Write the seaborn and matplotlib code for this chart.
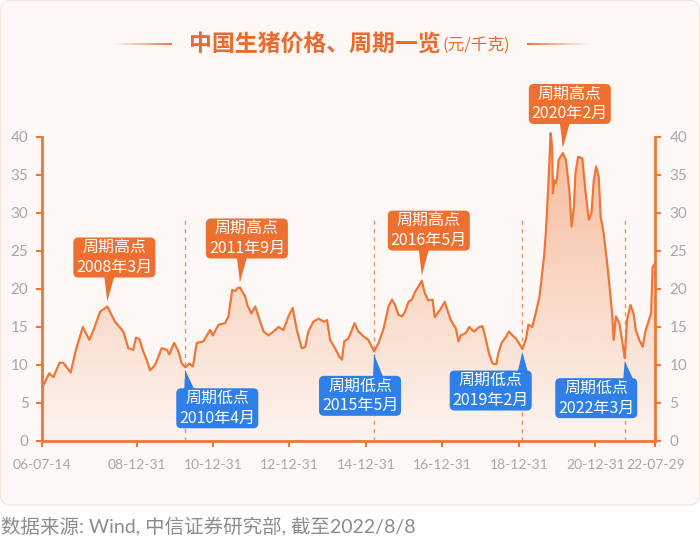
import numpy as np
import matplotlib
matplotlib.use("Agg")
import matplotlib.pyplot as plt
import seaborn as sns
from matplotlib.patches import FancyBboxPatch, Polygon
from matplotlib.transforms import IdentityTransform
from matplotlib.collections import LineCollection
from matplotlib.colors import to_rgb
import pandas as pd

# ---------------- data (decimal year, price 元/千克) ----------------
years = [
    2006.533, 2006.71, 2006.82, 2006.98, 2007.08, 2007.27, 2007.41, 2007.59, 2007.76, 2007.87,
    2008.04, 2008.23, 2008.43, 2008.65, 2008.78, 2008.91, 2008.98, 2009.07, 2009.17, 2009.26,
    2009.35, 2009.48, 2009.57, 2009.65, 2009.79, 2009.85, 2009.98, 2010.09, 2010.18, 2010.27,
    2010.38, 2010.47, 2010.57, 2010.74, 2010.92, 2010.99, 2011.14, 2011.31, 2011.40, 2011.50,
    2011.57, 2011.63, 2011.70, 2011.78, 2011.84, 2011.90, 2012.00, 2012.10, 2012.23, 2012.32,
    2012.45, 2012.58, 2012.71, 2012.84, 2012.97, 2013.08, 2013.19, 2013.32, 2013.41, 2013.49,
    2013.62, 2013.76, 2013.89, 2013.98, 2014.06, 2014.19, 2014.30, 2014.37, 2014.43, 2014.54,
    2014.63, 2014.70, 2014.80, 2014.93, 2015.06, 2015.21, 2015.33, 2015.46, 2015.59, 2015.68,
    2015.76, 2015.85, 2015.94, 2016.02, 2016.11, 2016.20, 2016.28, 2016.37, 2016.46, 2016.54,
    2016.63, 2016.74, 2016.80, 2016.93, 2017.06, 2017.13, 2017.22, 2017.35, 2017.42, 2017.48,
    2017.61, 2017.70, 2017.83, 2017.96, 2018.05, 2018.13, 2018.22, 2018.31, 2018.41, 2018.46,
    2018.55, 2018.66, 2018.74, 2018.83, 2018.92, 2019.00, 2019.09, 2019.18, 2019.25, 2019.35,
    2019.44, 2019.54, 2019.66, 2019.71, 2019.77, 2019.83, 2019.87, 2019.89, 2019.93, 2019.96,
    2020.00, 2020.04, 2020.15, 2020.23, 2020.32, 2020.38, 2020.44, 2020.48, 2020.55, 2020.66,
    2020.74, 2020.83, 2020.90, 2020.96, 2021.02, 2021.09, 2021.14, 2021.22, 2021.31, 2021.40,
    2021.44, 2021.48, 2021.54, 2021.63, 2021.70, 2021.77, 2021.83, 2021.92, 2022.00, 2022.06,
    2022.15, 2022.24, 2022.31, 2022.39, 2022.46, 2022.50, 2022.573,
]
prices = [
    7.1, 8.9, 8.4, 10.3, 10.3, 9.0, 12.0, 15.0, 13.3, 14.6,
    17.0, 17.7, 15.7, 14.4, 12.2, 12.0, 13.6, 13.4, 11.8, 10.7,
    9.3, 10.0, 11.1, 12.2, 12.0, 11.4, 12.9, 11.8, 10.2, 9.7,
    10.2, 9.8, 12.9, 13.1, 14.6, 13.9, 15.3, 15.5, 16.4, 19.9,
    19.7, 20.1, 20.2, 19.5, 19.0, 17.8, 16.8, 17.7, 15.7, 14.4,
    13.9, 14.4, 15.0, 14.6, 16.4, 17.5, 14.6, 12.2, 12.4, 14.4,
    15.7, 16.1, 15.7, 15.9, 13.3, 12.2, 11.1, 10.7, 13.1, 13.5,
    14.6, 15.5, 14.4, 13.8, 13.3, 11.8, 12.9, 14.8, 17.7, 18.6,
    17.9, 16.6, 16.4, 17.0, 18.3, 18.6, 19.6, 20.3, 21.1, 19.4,
    18.5, 18.6, 16.3, 17.2, 18.3, 17.2, 15.9, 14.8, 13.1, 13.9,
    14.2, 15.0, 14.4, 15.0, 15.1, 13.5, 11.5, 10.2, 10.1, 11.5,
    12.9, 13.7, 14.4, 13.9, 13.5, 12.9, 12.1, 13.3, 15.3, 15.0,
    16.8, 19.0, 24.3, 27.8, 33.5, 40.5, 38.7, 32.6, 34.3, 33.9,
    34.6, 37.0, 37.9, 37.0, 33.0, 28.2, 30.8, 35.2, 37.4, 37.2,
    33.0, 29.1, 30.0, 34.3, 36.1, 34.8, 29.5, 27.3, 23.4, 19.0,
    16.8, 13.3, 16.4, 15.5, 13.3, 10.9, 15.9, 17.9, 16.8, 14.6,
    13.3, 12.4, 14.4, 15.7, 16.8, 22.9, 23.4,
]

tick_dates = ["2006-07-14", "2008-12-31", "2010-12-31", "2012-12-31", "2014-12-31",
              "2016-12-31", "2018-12-31", "2020-12-31", "2022-07-29"]
y_ticks = [0, 5, 10, 15, 20, 25, 30, 35, 40]

high_labels = ["周期高点\n2008年3月", "周期高点\n2011年9月", "周期高点\n2016年5月", "周期高点\n2020年2月"]
high_windows = [(2007.8, 2008.6), (2011.4, 2012.0), (2016.2, 2016.7), (2020.0, 2020.3)]
low_labels = ["周期低点\n2010年4月", "周期低点\n2015年5月", "周期低点\n2019年2月", "周期低点\n2022年3月"]
low_windows = [(2010.1, 2010.5), (2015.0, 2015.4), (2018.9, 2019.2), (2021.6, 2021.9)]

title_main = "中国生猪价格、周期一览"
title_unit = "(元/千克)"
source_text = "数据来源: Wind, 中信证券研究部, 截至2022/8/8"

# ---------------- style ----------------
LINE = "#EF7636"
ORANGE_BOX = "#EE7030"
BLUE_BOX = "#2E7FE8"
TITLE_C = "#EC6A2C"
TICK_TXT = "#A8A8A8"
PANEL = "#FDF8F5"

sns.set_theme(style="white")
plt.rcParams["font.family"] = ["Lato", "Noto Sans CJK SC", "DejaVu Sans"]
CJK = ["Noto Sans CJK SC", "DejaVu Sans"]

W, H = 700, 549
fig = plt.figure(figsize=(W / 100, H / 100), dpi=100)
fig.patch.set_facecolor("white")

panel = FancyBboxPatch((0.5, 44), 699, 504.5, boxstyle="round,pad=0,rounding_size=10",
                       transform=IdentityTransform(), fc=PANEL, ec="#F2E6DF", lw=0.8, zorder=0)
fig.add_artist(panel)

ax = fig.add_axes([42.4 / W, 108 / H, 613 / W, 304 / H])
ax.set_facecolor("none")

df = pd.DataFrame({"year": years, "price": prices})


def dec_year(s):
    d = pd.Timestamp(s)
    start = pd.Timestamp(d.year, 1, 1)
    end = pd.Timestamp(d.year + 1, 1, 1)
    return d.year + (d - start) / (end - start)


tick_pos = [dec_year(s) for s in tick_dates]
tick_labels = [pd.Timestamp(s).strftime("%y-%m-%d") for s in tick_dates]
xmin, xmax = tick_pos[0], tick_pos[-1]

# gradient fill under the curve
poly = ax.fill_between(df["year"], df["price"], 0, color="none", lw=0)
rgb = to_rgb(LINE)
grad = np.zeros((256, 1, 4))
grad[..., 0], grad[..., 1], grad[..., 2] = rgb
grad[..., 3] = np.linspace(0.48, 0.03, 256)[:, None]
im = ax.imshow(grad, extent=[xmin, xmax, 0, 41], aspect="auto", origin="upper", zorder=2)
im.set_clip_path(poly.get_paths()[0], transform=ax.transData)

sns.lineplot(data=df, x="year", y="price", ax=ax, color=LINE, lw=1.6, clip_on=False, zorder=4)

ax.set_xlim(xmin, xmax)
ax.set_ylim(0, 40)
ax.set_xlabel("")
ax.set_ylabel("")

ax.set_yticks(y_ticks)
ax.set_xticks(tick_pos)
ax.set_xticklabels(tick_labels)
ax.tick_params(axis="y", left=True, right=True, labelleft=True, labelright=True, direction="out",
               length=4, width=1.5, color=LINE, labelcolor=TICK_TXT, labelsize=11, pad=6)
ax.tick_params(axis="x", bottom=True, direction="out", length=4, width=1.5, color=LINE,
               labelcolor=TICK_TXT, labelsize=10, pad=9)
for s in ["left", "right", "bottom"]:
    ax.spines[s].set_color(LINE)
    ax.spines[s].set_linewidth(2)
ax.spines["top"].set_visible(False)
ax.grid(False)

arr_y = np.array(years)
arr_p = np.array(prices)


def extreme(window, kind):
    m = (arr_y >= window[0]) & (arr_y <= window[1])
    idx = np.where(m)[0]
    j = idx[np.argmax(arr_p[idx])] if kind == "max" else idx[np.argmin(arr_p[idx])]
    return arr_y[j], arr_p[j]


highs = [extreme(w, "max") for w in high_windows]
lows = [extreme(w, "min") for w in low_windows]

# dashed markers at cycle lows
ax.vlines([x for x, _ in lows], 0, 29.3, colors="#EE9466", linestyles=(0, (3, 3)), lw=1, zorder=1)

# annotation boxes (pixel layout offsets: box-centre relative to the data point)
high_offsets = [(7, -49), (7, -49), (7, -50), (7, -49)]
low_offsets = [(32, 41), (-14, 44.5), (-31.6, 41.5), (-28.5, 40)]
BW, BH = 82, 40


def draw_box(pt, off, label, color, kind):
    px, py = ax.transData.transform(pt)
    cx, cy = px + off[0], py - off[1]
    box = FancyBboxPatch((cx - BW / 2, cy - BH / 2), BW, BH, boxstyle="round,pad=0,rounding_size=5",
                         transform=IdentityTransform(), fc=color, ec="none", zorder=6)
    fig.add_artist(box)
    if kind == "high":
        tip = (px, py + 5)
        by = cy - BH / 2 + 1
        b0, b1 = px - 3, px + 7
    else:
        tip = (px, py - 3)
        by = cy + BH / 2 - 1
        b0, b1 = px - 1, px + 9
        b1 = min(b1, cx + BW / 2 - 4)
        b0 = min(b0, b1 - 10)
    tri = Polygon([tip, (b0, by), (b1, by)], closed=True, transform=IdentityTransform(),
                  fc=color, ec="none", zorder=6)
    fig.add_artist(tri)
    fig.text(cx / W, cy / H, label, ha="center", va="center", color="white", fontsize=11.5,
             linespacing=1.2, family=CJK, zorder=7)


for pt, off, lab in zip(highs, high_offsets, high_labels):
    draw_box(pt, off, lab, ORANGE_BOX, "high")
for pt, off, lab in zip(lows, low_offsets, low_labels):
    draw_box(pt, off, lab, BLUE_BOX, "low")

# title with fading side rules
ty = 1 - 44 / H
fig.text(441 / W, ty, title_main, ha="right", va="center", fontsize=16.5, color=TITLE_C,
         fontweight="bold", family=CJK)
fig.text(442 / W, ty - 0.002, title_unit, ha="left", va="center", fontsize=12, color=TITLE_C, family=CJK)


def fading_rule(x0, x1, fade_left):
    n = 40
    xs = np.linspace(x0, x1, n + 1)
    segs = [[(xs[i] / W, ty), (xs[i + 1] / W, ty)] for i in range(n)]
    a = np.linspace(0.0, 1.0, n) if fade_left else np.linspace(1.0, 0.0, n)
    cols = [(*to_rgb(TITLE_C), ai) for ai in a]
    lc = LineCollection(segs, colors=cols, linewidths=1.3, transform=fig.transFigure)
    fig.add_artist(lc)


fading_rule(113, 172, True)
fading_rule(527, 590, False)

fig.text(1 / W, 1 - 527 / H, source_text, ha="left", va="center", fontsize=14, color="#8C8C8C",
         family=["Lato", "Noto Sans CJK SC", "DejaVu Sans"])

fig.savefig("out.png", dpi=100, facecolor=fig.get_facecolor())
